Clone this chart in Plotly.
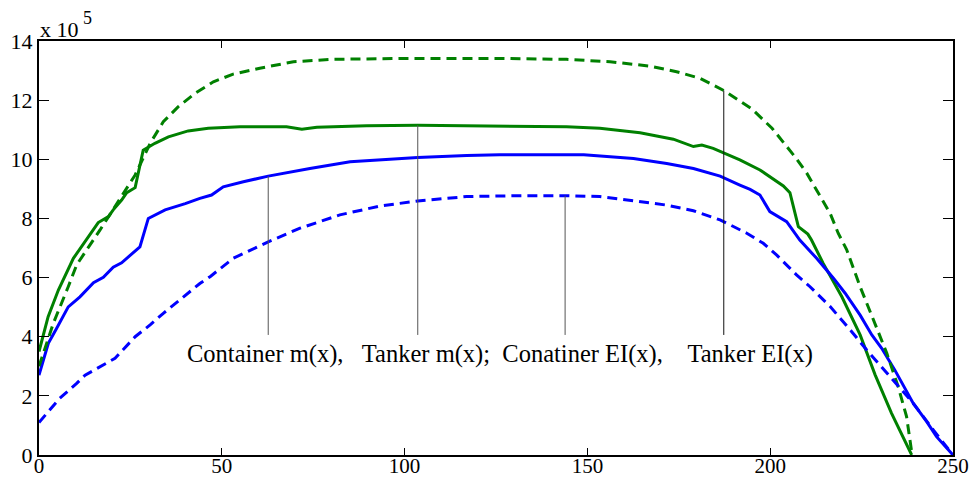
import numpy as np
import plotly.graph_objects as go

# Container m(x)  (blue solid)
cm_x = [0, 2.55, 4.8, 8.0, 11.2, 14.9, 17.6, 20.3, 22.6, 27.6, 29.9, 34.5, 40, 44, 47.2, 50.4, 55.9, 62.7,
        74.1, 85.1, 103.6, 117, 126, 149, 162.6, 171.7, 179, 186.3, 191.7, 194.5, 197.2, 199.9, 204.5,
        208.1, 212.7, 217.3, 220.5, 224.6, 227.8, 230.5, 234.1, 239.1, 242.8, 245.5, 250]
cm_y = [2.7, 3.78, 4.28, 5.01, 5.35, 5.83, 6.01, 6.35, 6.5, 7.04, 8.0, 8.29, 8.5, 8.68, 8.79, 9.07, 9.24, 9.43,
        9.69, 9.92, 10.06, 10.13, 10.15, 10.15, 10.03, 9.86, 9.69, 9.43, 9.13, 8.98, 8.79, 8.23, 7.89,
        7.27, 6.65, 5.98, 5.47, 4.73, 4.06, 3.61, 2.87, 1.75, 1.13, 0.62, 0.0]

# Tanker m(x)  (green solid)
tm_x = [0, 2.5, 5.3, 9.4, 16.2, 19, 20.3, 22.6, 24, 26.3, 28.5, 31.7, 35.4, 40.8, 46.3, 55, 67.7, 71.9, 76,
        89.6, 103.6, 126, 144.3, 153.4, 164.4, 173.5, 179, 181.3, 184.4, 191.7, 197.2, 203.6, 205.4, 207.7,
        210.3, 211.3, 214.5, 219.6, 224.6, 228.7, 233.2, 238.7]
tm_y = [3.5, 4.68, 5.58, 6.65, 7.86, 8.06, 8.29, 8.62, 8.87, 9.04, 10.31, 10.54, 10.76, 10.96, 11.05, 11.1,
        11.1, 11.02, 11.08, 11.13, 11.15, 11.13, 11.1, 11.05, 10.9, 10.68, 10.43, 10.48, 10.37, 9.98, 9.64,
        9.1, 8.87, 7.72, 7.47, 7.27, 6.48, 5.35, 4.06, 2.71, 1.41, 0.0]

# Container EI(x)  (blue dashed)
ce_x = [0, 5.7, 10.3, 12.6, 20.8, 26.3, 30.4, 34, 44, 46.8, 53.1, 62.7, 71.4, 82.3, 93.3, 103.6, 117, 131.6,
        144.3, 153.4, 162.6, 171.7, 179, 186.3, 193.6, 198.1, 201.8, 207.2, 210.9, 216.4, 222.3, 226.4,
        232.8, 239.1, 244.6, 250]
ce_y = [1.1, 1.92, 2.42, 2.7, 3.27, 4.0, 4.4, 4.79, 5.8, 6.03, 6.65, 7.21, 7.67, 8.12, 8.42, 8.59, 8.74, 8.77,
        8.77, 8.74, 8.6, 8.45, 8.26, 7.95, 7.5, 7.16, 6.76, 6.09, 5.69, 5.02, 4.17, 3.55,
        2.65, 1.75, 0.85, 0.0]

# Tanker EI(x)  (green dashed)
te_x = [0, 1.2, 3.9, 8, 10.3, 16.7, 26.3, 30.4, 34, 38.1, 42.7, 47.7, 53.1, 60.4, 69.6, 80.5, 98.7, 126,
        144.3, 156.2, 167.1, 174.4, 180.8, 187.4, 195, 200.5, 207, 210, 213.2, 216.4, 218.6, 220.9, 224.6,
        229.1, 231.9, 235, 237.3, 238.7, 239]
te_y = [3.0, 3.44, 4.45, 5.69, 6.43, 7.61, 9.47, 10.54, 11.27, 11.78, 12.23, 12.62, 12.88, 13.08, 13.3, 13.38,
        13.41, 13.41, 13.38, 13.3, 13.15, 12.96, 12.74, 12.32, 11.7, 11.05, 10.05, 9.53, 8.85, 8.17, 7.5,
        6.95, 5.69, 4.28, 3.44, 2.31, 1.3, 0.1, 0.0]

x_ticks = [0, 50, 100, 150, 200, 250]
y_ticks = [0, 2, 4, 6, 8, 10, 12, 14]

NB = "\u00a0"
label_text = ("Container m(x)," + NB * 3 + "Tanker m(x);" + NB * 2 + "Conatiner EI(x)," + NB * 4 + "Tanker EI(x)")
pointer_x = [62.7, 103.6, 143.9, 187.3]
pointer_bottom = 4.06
label_pos = (126.1, 3.42)

BLUE = "#0000FF"
GREEN = "#008000"
FONT = "Liberation Serif, Times New Roman, serif"

fig = go.Figure()
fig.add_trace(go.Scatter(x=tm_x, y=tm_y, mode="lines", line=dict(color=GREEN, width=3)))
fig.add_trace(go.Scatter(x=cm_x, y=cm_y, mode="lines", line=dict(color=BLUE, width=3)))
fig.add_trace(go.Scatter(x=te_x, y=te_y, mode="lines", line=dict(color=GREEN, width=3, dash="10px,6px")))
fig.add_trace(go.Scatter(x=ce_x, y=ce_y, mode="lines", line=dict(color=BLUE, width=3, dash="10px,6px")))

series_for_pointer = [(cm_x, cm_y), (tm_x, tm_y), (ce_x, ce_y), (te_x, te_y)]
pointer_colors = ["#555555", "#555555", "#555555", "#111111"]
for px, (sx, sy), pc in zip(pointer_x, series_for_pointer, pointer_colors):
    top = float(np.interp(px, sx, sy))
    fig.add_shape(type="line", x0=px, x1=px, y0=pointer_bottom, y1=top,
                  xref="x", yref="y", line=dict(color=pc, width=1))

fig.add_annotation(x=label_pos[0], y=label_pos[1], xref="x", yref="y", text=label_text,
                   showarrow=False, font=dict(family=FONT, size=24.5, color="black"))
fig.add_annotation(x=0, y=1, xref="paper", yref="paper", xanchor="left", yanchor="middle",
                   text="x 10", showarrow=False, yshift=12, xshift=-1,
                   font=dict(family=FONT, size=22, color="black"))
fig.add_annotation(x=0, y=1, xref="paper", yref="paper", xanchor="left", yanchor="middle",
                   text="5", showarrow=False, yshift=23, xshift=42,
                   font=dict(family=FONT, size=18, color="black"))

axis_common = dict(showgrid=False, zeroline=False, showline=True, linecolor="black", linewidth=2,
                   mirror="ticks", ticks="inside", tickcolor="black", tickwidth=1, automargin=False)
fig.update_xaxes(range=[0, 250], tickvals=x_ticks, ticklen=7, ticklabelstandoff=-9,
                 tickfont=dict(family=FONT, size=21, color="black"), **axis_common)
fig.update_yaxes(range=[0, 14], tickvals=y_ticks, ticklen=10,
                 tickfont=dict(family=FONT, size=22, color="black"), **axis_common)

fig.update_layout(width=971, height=480, margin=dict(l=39, r=18, t=41, b=25),
                  plot_bgcolor="white", paper_bgcolor="white", showlegend=False)

fig.write_html("out.html")
